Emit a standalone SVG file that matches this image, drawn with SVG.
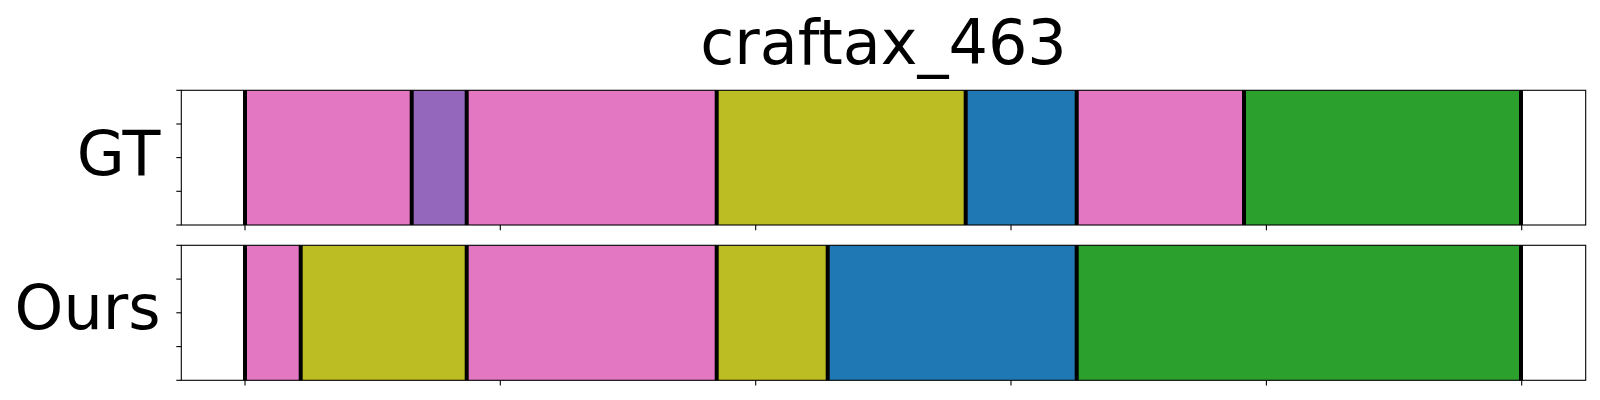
<svg xmlns="http://www.w3.org/2000/svg" width="1600" height="400" viewBox="0 0 1600 400">
<style>
  .lbl { font-family: "DejaVu Sans", sans-serif; fill: #000; }
  .spine { fill: none; stroke: #000; stroke-width: 1.1; }
  .tick { stroke: #000; stroke-width: 1.1; }
  .bnd { stroke: #000; stroke-width: 4; }
  .pink { fill: #e377c2; }
  .purple { fill: #9467bd; }
  .olive { fill: #bcbd22; }
  .blue { fill: #1f77b4; }
  .green { fill: #2ca02c; }
</style>
<rect width="1600" height="400" fill="#fff"/>
<text id="title" class="lbl" x="883.5" y="64" font-size="62" text-anchor="middle">craftax_463</text>

<g id="gt">
  <rect class="pink" x="245" y="90.3" width="166.7" height="134.7"/>
  <rect class="purple" x="411.7" y="90.3" width="55" height="134.7"/>
  <rect class="pink" x="466.7" y="90.3" width="250" height="134.7"/>
  <rect class="olive" x="716.7" y="90.3" width="249" height="134.7"/>
  <rect class="blue" x="965.7" y="90.3" width="111" height="134.7"/>
  <rect class="pink" x="1076.7" y="90.3" width="167.3" height="134.7"/>
  <rect class="green" x="1244" y="90.3" width="277" height="134.7"/>
  <g class="bnd">
    <line x1="245" y1="90.3" x2="245" y2="225"/>
    <line x1="411.7" y1="90.3" x2="411.7" y2="225"/>
    <line x1="466.7" y1="90.3" x2="466.7" y2="225"/>
    <line x1="716.7" y1="90.3" x2="716.7" y2="225"/>
    <line x1="965.7" y1="90.3" x2="965.7" y2="225"/>
    <line x1="1076.7" y1="90.3" x2="1076.7" y2="225"/>
    <line x1="1244" y1="90.3" x2="1244" y2="225"/>
    <line x1="1521" y1="90.3" x2="1521" y2="225"/>
  </g>
  <rect class="spine" x="181.3" y="90.3" width="1404.4" height="134.7"/>
  <g class="tick">
    <line x1="176.3" y1="90.3" x2="181.3" y2="90.3"/>
    <line x1="176.3" y1="124" x2="181.3" y2="124"/>
    <line x1="176.3" y1="157.6" x2="181.3" y2="157.6"/>
    <line x1="176.3" y1="191.3" x2="181.3" y2="191.3"/>
    <line x1="176.3" y1="225" x2="181.3" y2="225"/>
    <line x1="245" y1="225" x2="245" y2="230.3"/>
    <line x1="500.3" y1="225" x2="500.3" y2="230.3"/>
    <line x1="755.7" y1="225" x2="755.7" y2="230.3"/>
    <line x1="1011" y1="225" x2="1011" y2="230.3"/>
    <line x1="1266.4" y1="225" x2="1266.4" y2="230.3"/>
    <line x1="1521.7" y1="225" x2="1521.7" y2="230.3"/>
  </g>
  <text class="lbl" x="160.5" y="175" font-size="62" text-anchor="end">GT</text>
</g>

<g id="ours">
  <rect class="pink" x="245" y="245.3" width="55.7" height="135"/>
  <rect class="olive" x="300.7" y="245.3" width="166" height="135"/>
  <rect class="pink" x="466.7" y="245.3" width="250" height="135"/>
  <rect class="olive" x="716.7" y="245.3" width="111" height="135"/>
  <rect class="blue" x="827.7" y="245.3" width="249" height="135"/>
  <rect class="green" x="1076.7" y="245.3" width="444.3" height="135"/>
  <g class="bnd">
    <line x1="245" y1="245.3" x2="245" y2="380.3"/>
    <line x1="300.7" y1="245.3" x2="300.7" y2="380.3"/>
    <line x1="466.7" y1="245.3" x2="466.7" y2="380.3"/>
    <line x1="716.7" y1="245.3" x2="716.7" y2="380.3"/>
    <line x1="827.7" y1="245.3" x2="827.7" y2="380.3"/>
    <line x1="1076.7" y1="245.3" x2="1076.7" y2="380.3"/>
    <line x1="1521" y1="245.3" x2="1521" y2="380.3"/>
  </g>
  <rect class="spine" x="181.3" y="245.3" width="1404.4" height="135"/>
  <g class="tick">
    <line x1="176.3" y1="245.3" x2="181.3" y2="245.3"/>
    <line x1="176.3" y1="279.1" x2="181.3" y2="279.1"/>
    <line x1="176.3" y1="312.8" x2="181.3" y2="312.8"/>
    <line x1="176.3" y1="346.6" x2="181.3" y2="346.6"/>
    <line x1="176.3" y1="380.3" x2="181.3" y2="380.3"/>
    <line x1="245" y1="380.3" x2="245" y2="385.6"/>
    <line x1="500.3" y1="380.3" x2="500.3" y2="385.6"/>
    <line x1="755.7" y1="380.3" x2="755.7" y2="385.6"/>
    <line x1="1011" y1="380.3" x2="1011" y2="385.6"/>
    <line x1="1266.4" y1="380.3" x2="1266.4" y2="385.6"/>
    <line x1="1521.7" y1="380.3" x2="1521.7" y2="385.6"/>
  </g>
  <text class="lbl" x="160.5" y="329" font-size="62" text-anchor="end">Ours</text>
</g>
<g id="connectors"/>
</svg>
